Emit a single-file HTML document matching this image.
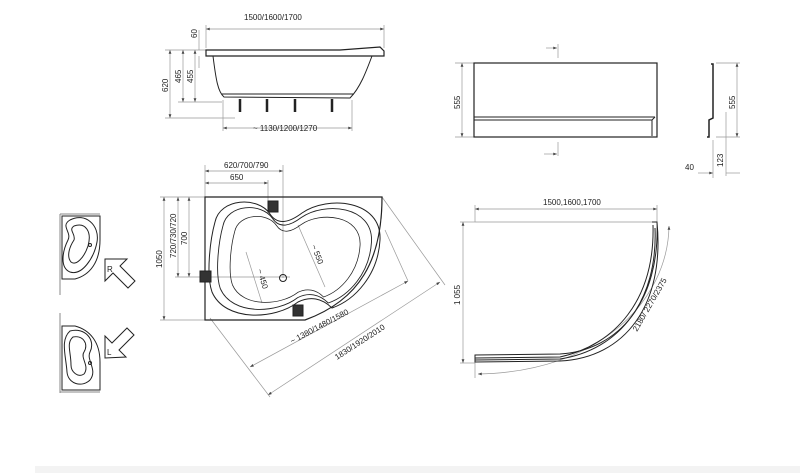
<!DOCTYPE html>
<html><head><meta charset="utf-8"><style>
html,body{margin:0;padding:0;background:#fff;width:800px;height:473px;overflow:hidden}
svg{display:block}
text{font-family:"Liberation Sans",sans-serif;font-size:8px;fill:#222}
</style></head><body>
<svg width="800" height="473" viewBox="0 0 800 473" xmlns="http://www.w3.org/2000/svg">
<defs>
<marker id="a" viewBox="0 0 8 6" refX="8" refY="3" markerWidth="6" markerHeight="4" orient="auto-start-reverse"><path d="M0,0L8,3L0,6z" fill="#444"/></marker>
</defs>
<rect x="35" y="466" width="765" height="7" fill="#f3f3f3"/>
<g stroke="#999" stroke-width="0.7" fill="none">
<line x1="206" y1="29" x2="384" y2="29" marker-start="url(#a)" marker-end="url(#a)"/>
<line x1="206" y1="25" x2="206" y2="48"/><line x1="384" y1="25" x2="384" y2="48"/>
<line x1="165" y1="50" x2="206" y2="50"/><line x1="165" y1="118" x2="235" y2="118"/>
<line x1="178" y1="102" x2="222" y2="102"/>
<line x1="170" y1="50" x2="170" y2="118" marker-start="url(#a)" marker-end="url(#a)"/>
<line x1="183" y1="50" x2="183" y2="102" marker-start="url(#a)" marker-end="url(#a)"/>
<line x1="195" y1="50" x2="195" y2="102" marker-start="url(#a)" marker-end="url(#a)"/>
<line x1="199" y1="30" x2="199" y2="50"/><line x1="199" y1="56" x2="199" y2="68"/>
<line x1="223" y1="100" x2="223" y2="131"/><line x1="352" y1="100" x2="352" y2="131"/>
<line x1="223" y1="128" x2="352" y2="128" marker-start="url(#a)" marker-end="url(#a)"/>
<line x1="205" y1="171" x2="283" y2="171" marker-start="url(#a)" marker-end="url(#a)"/>
<line x1="205" y1="183" x2="268" y2="183" marker-start="url(#a)" marker-end="url(#a)"/>
<line x1="205" y1="165" x2="205" y2="197"/><line x1="283" y1="165" x2="283" y2="278"/><line x1="268" y1="180" x2="268" y2="205"/>
<line x1="160" y1="197" x2="205" y2="197"/><line x1="160" y1="320" x2="205" y2="320"/>
<line x1="175" y1="277" x2="290" y2="277"/>
<line x1="164" y1="197" x2="164" y2="320" marker-start="url(#a)" marker-end="url(#a)"/>
<line x1="178" y1="197" x2="178" y2="277" marker-start="url(#a)" marker-end="url(#a)"/>
<line x1="189" y1="197" x2="189" y2="277" marker-start="url(#a)" marker-end="url(#a)"/>
<line x1="250" y1="367" x2="408" y2="281" marker-start="url(#a)" marker-end="url(#a)"/>
<line x1="268" y1="395" x2="440" y2="282" marker-start="url(#a)" marker-end="url(#a)"/>
<line x1="382" y1="197" x2="445" y2="285"/><line x1="210" y1="318" x2="270" y2="397"/>
<line x1="385" y1="230" x2="408" y2="281"/>
<line x1="246" y1="252" x2="262" y2="303"/><line x1="298" y1="225" x2="325" y2="287"/>
<line x1="455" y1="63" x2="474" y2="63"/><line x1="455" y1="137" x2="474" y2="137"/>
<line x1="462" y1="63" x2="462" y2="137" marker-start="url(#a)" marker-end="url(#a)"/>
<line x1="558" y1="44" x2="558" y2="58"/><line x1="558" y1="142" x2="558" y2="156"/>
<line x1="546" y1="48" x2="557" y2="48" marker-end="url(#a)"/><line x1="544" y1="154" x2="557" y2="154" marker-end="url(#a)"/>
<line x1="716" y1="63" x2="740" y2="63"/><line x1="716" y1="137" x2="740" y2="137"/>
<line x1="737" y1="63" x2="737" y2="137" marker-start="url(#a)" marker-end="url(#a)"/>
<line x1="726" y1="112" x2="726" y2="176" /><line x1="713" y1="140" x2="713" y2="178"/>
<line x1="698" y1="173" x2="713" y2="173" marker-end="url(#a)"/><line x1="726" y1="173" x2="740" y2="173"/>
<line x1="475" y1="209" x2="657" y2="209" marker-start="url(#a)" marker-end="url(#a)"/>
<line x1="475" y1="205" x2="475" y2="222"/><line x1="657" y1="205" x2="657" y2="222"/>
<line x1="475" y1="222" x2="657" y2="222"/>
<line x1="460" y1="222" x2="475" y2="222"/><line x1="460" y1="363" x2="475" y2="363"/>
<line x1="463" y1="222" x2="463" y2="363" marker-start="url(#a)" marker-end="url(#a)"/>
<path d="M669,226 C668,300 600,372 478,374" marker-start="url(#a)" marker-end="url(#a)"/>
<line x1="475" y1="355" x2="475" y2="378"/>
</g>
<g stroke="#222" stroke-width="1" fill="none">
<path d="M206,50 H340 L380,47 L384,51 V56 H206 Z" stroke-width="1.2"/>
<path d="M213,56 C216,80 218,92 224,97 L350,98 C360,88 366,72 372,56"/>
<path d="M222,94 L354,94"/>
<g stroke-width="2.5"><line x1="240" y1="99" x2="240" y2="112"/><line x1="267" y1="99" x2="267" y2="112"/><line x1="295" y1="99" x2="295" y2="112"/><line x1="332" y1="99" x2="332" y2="112"/></g>
<path d="M205,197 H382 C382,260 360,300 305,320 H205 Z" stroke-width="1.2"/>
<g id="k"><path d="M215,222 C220,198 258,196 270,214 C278,226 290,222 302,213 C328,195 382,200 380,240 C378,275 355,300 332,308 C322,298 310,296 298,302 C275,320 225,322 212,292 C206,275 210,240 215,222 Z"/></g>
<use href="#k" transform="translate(295,258) scale(0.9) translate(-295,-258)"/>
<use href="#k" transform="translate(297,262) scale(0.76) translate(-297,-262)"/>
<circle cx="283" cy="278" r="3.5"/>
<rect x="268" y="201" width="10" height="11" fill="#333"/>
<rect x="200" y="271" width="11" height="11" fill="#333"/>
<rect x="293" y="305" width="10" height="11" fill="#333"/>
<rect x="474" y="63" width="183" height="74" stroke-width="1.2"/>
<line x1="474" y1="117" x2="655" y2="117"/><path d="M474,120 H652 L655,117"/>
<line x1="652" y1="120" x2="652" y2="136"/>
<path d="M711,64 H713 V118 L709,120 V137 H707" stroke-width="1.5"/>
<path d="M652,222 H657 C660,300 620,350 560,354 L475,355 V362 L560,361 C625,358 665,305 657,222" />
<path d="M653,225 C655,300 615,345 560,357 L475,358"/>
<path d="M655,228 C658,300 620,350 560,359 L475,360"/>
<!-- small icons -->
<path d="M60,214 H100 M60,214 V295" stroke="#888"/>
<path d="M62,216 H100 V240 C100,262 90,275 75,279 H62 Z"/>
<path d="M70,220 C85,212 100,225 97,242 C94,258 82,276 70,272 C60,268 62,252 68,240 C72,232 60,226 70,220Z"/>
<path d="M74,226 C86,222 92,232 88,246 C84,258 76,266 71,262 C66,256 70,246 74,240 C76,234 68,230 74,226Z"/>
<circle cx="90" cy="245" r="1.5"/>
<path d="M105,259 H127 L120,266 L135,281 L128,288 L113,273 L105,281 Z"/>
<path d="M60,313 V393 M60,392 H100" stroke="#888"/>
<path d="M62,326 H75 C90,330 100,342 100,362 V390 H62 Z"/>
<path d="M70,331 C85,327 96,340 90,352 C86,360 98,370 90,380 C82,388 68,384 67,372 C66,356 60,340 70,331Z"/>
<path d="M73,337 C83,335 89,344 84,352 C80,358 90,366 84,374 C78,378 71,372 71,365 C71,352 66,343 73,337Z"/>
<circle cx="90" cy="363" r="1.5"/>
<path d="M105,358 V336 L112,343 L127,328 L134,335 L119,350 L126,357 Z"/>
</g>
<g>
<text x="244" y="20">1500/1600/1700</text>
<text x="253" y="131" font-size="7.5">~ 1130/1200/1270</text>
<text transform="translate(197,38) rotate(-90)" font-size="7">60</text>
<text transform="translate(168,92) rotate(-90)" font-size="7.5">620</text>
<text transform="translate(181,83) rotate(-90)" font-size="7.5">465</text>
<text transform="translate(193,83) rotate(-90)" font-size="7.5">455</text>
<text x="224" y="168" font-size="7.5">620/700/790</text>
<text x="230" y="180" font-size="7.5">650</text>
<text transform="translate(162,268) rotate(-90)" font-size="7.5">1050</text>
<text transform="translate(176,258) rotate(-90)" font-size="7.5">720/730/720</text>
<text transform="translate(187,245) rotate(-90)" font-size="7.5">700</text>
<text transform="translate(257,270) rotate(73)" font-size="7.5">~ 450</text>
<text transform="translate(311,246) rotate(68)" font-size="7.5">~ 550</text>
<text transform="translate(292,344) rotate(-28)" font-size="7.5">~ 1380/1480/1580</text>
<text transform="translate(337,360) rotate(-33)" font-size="7.5">1830/1920/2010</text>
<text transform="translate(460,109) rotate(-90)" font-size="7.5">555</text>
<text transform="translate(735,109) rotate(-90)" font-size="7.5">555</text>
<text transform="translate(723,167) rotate(-90)" font-size="7.5">123</text>
<text x="685" y="170" font-size="7.5">40</text>
<text x="543" y="205" font-size="7.5">1500,1600,1700</text>
<text transform="translate(460,305) rotate(-90)" font-size="7.5">1 055</text>
<text transform="translate(637,332) rotate(-60)" font-size="7.5">2180/ 2270/2375</text>
<text x="107" y="272" font-size="11" fill="#222">R</text>
<text x="107" y="355" font-size="11" fill="#222">L</text>
</g>
</svg>
</body></html>
